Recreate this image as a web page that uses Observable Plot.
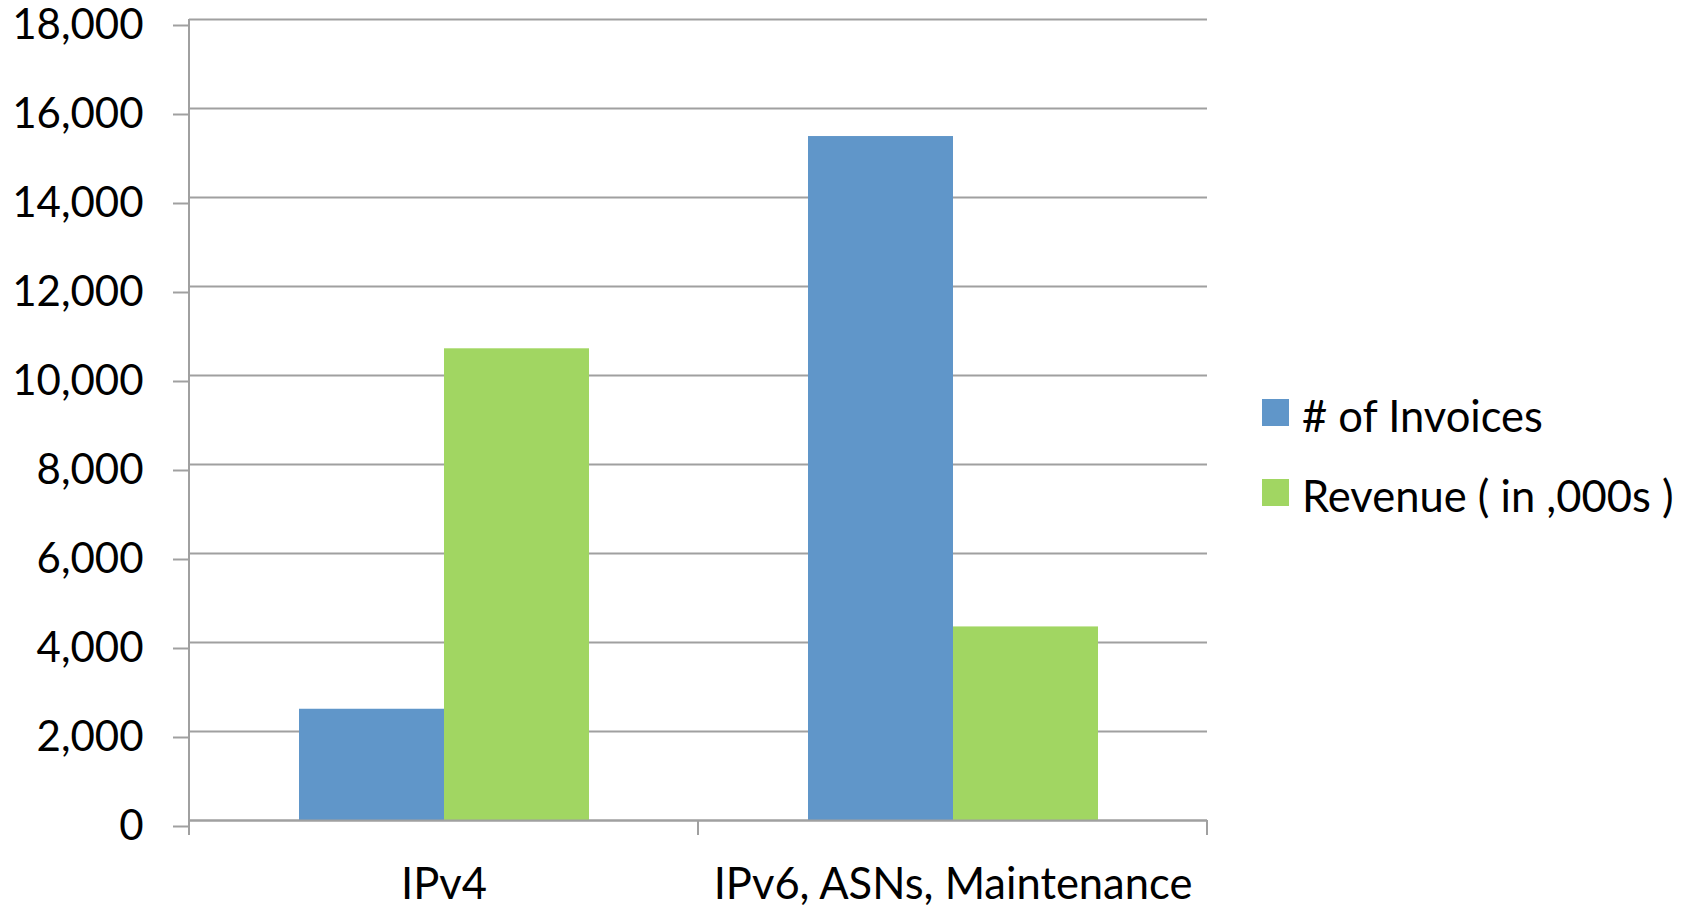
<!DOCTYPE html>
<html>
<head>
<meta charset="utf-8">
<script src="https://cdn.jsdelivr.net/npm/d3@7"></script>
<script src="https://cdn.jsdelivr.net/npm/@observablehq/plot@0.6"></script>
<style>
  html, body { margin: 0; padding: 0; background: #fff; }
  #wrap { position: relative; width: 1700px; height: 907px; font-family: Lato, sans-serif; }
  #legend { position: absolute; left: 1262px; top: 399px; }
  .row { position: absolute; left: 0; white-space: nowrap; }
  .sw { position: absolute; left: 0; top: 0; width: 27px; height: 27px; }
  .lab { position: absolute; left: 40px; top: -9px; font-size: 43.5px; line-height: 50px; color: #000; }
</style>
</head>
<body>
<div id="wrap"></div>
<script>
const categories = ["IPv4", "IPv6, ASNs, Maintenance"];
const series = ["# of Invoices", "Revenue ( in ,000s )"];
const invoices = [2500, 15370];
const revenue = [10600, 4350];
const yTicks = [0, 2000, 4000, 6000, 8000, 10000, 12000, 14000, 16000, 18000];
const colors = ["#6096C9", "#A1D662"];

const data = categories.flatMap((c, i) => [
  {category: c, series: series[0], value: invoices[i]},
  {category: c, series: series[1], value: revenue[i]}
]);

const gridColor = "#A0A0A0";

const chart = Plot.plot({
  width: 1700,
  height: 907,
  marginLeft: 188,
  marginRight: 493,
  marginTop: 19,
  marginBottom: 87,
  style: {fontFamily: "Lato, sans-serif", fontSize: "42px", color: "#000", background: "white"},
  fx: {domain: categories, padding: 0, label: null, axis: null},
  x: {domain: series, paddingInner: 0, paddingOuter: 0.75, axis: null},
  y: {domain: [0, 18000], axis: null},
  color: {domain: series, range: colors},
  marks: [
    Plot.gridY(yTicks, {stroke: gridColor, strokeOpacity: 1, strokeWidth: 2}),
    Plot.barY(data, {fx: "category", x: "series", y: "value", fill: "series"}),
    Plot.ruleY([0], {stroke: gridColor, strokeWidth: 2}),
    Plot.axisY(yTicks, {label: null, tickSize: 16, tickPadding: 30, tickFormat: d3.format(","), stroke: gridColor, strokeWidth: 2, strokeOpacity: 1, fill: "#000", fontSize: 42, dy: 6}),
    Plot.axisFx({anchor: "bottom", tickSize: 0, tickPadding: 48, fontSize: 43.5, fill: "#000", label: null})
  ]
});

// Category boundary ticks and the vertical axis line, positioned from Plot's own scales
const fx = chart.scale("fx");
const ys = chart.scale("y");
const svg = d3.select(chart);
const bounds = categories.map(c => fx.apply(c));
bounds.push(bounds[bounds.length - 1] + fx.bandwidth);
const y0 = ys.apply(0), yTop = ys.apply(18000);
const g = svg.append("g").attr("stroke", gridColor).attr("stroke-width", 2);
bounds.forEach((bx, i) => {
  g.append("line")
    .attr("x1", bx).attr("x2", bx)
    .attr("y1", i === 0 ? yTop : y0).attr("y2", y0 + 15);
});

const wrap = document.getElementById("wrap");
wrap.appendChild(chart);

const legend = document.createElement("div");
legend.id = "legend";
series.forEach((s, i) => {
  const row = document.createElement("div");
  row.className = "row";
  row.style.top = (i * 80) + "px";
  const sw = document.createElement("div");
  sw.className = "sw";
  sw.style.background = colors[i];
  const lab = document.createElement("div");
  lab.className = "lab";
  lab.textContent = s;
  row.appendChild(sw);
  row.appendChild(lab);
  legend.appendChild(row);
});
wrap.appendChild(legend);
</script>
</body>
</html>
